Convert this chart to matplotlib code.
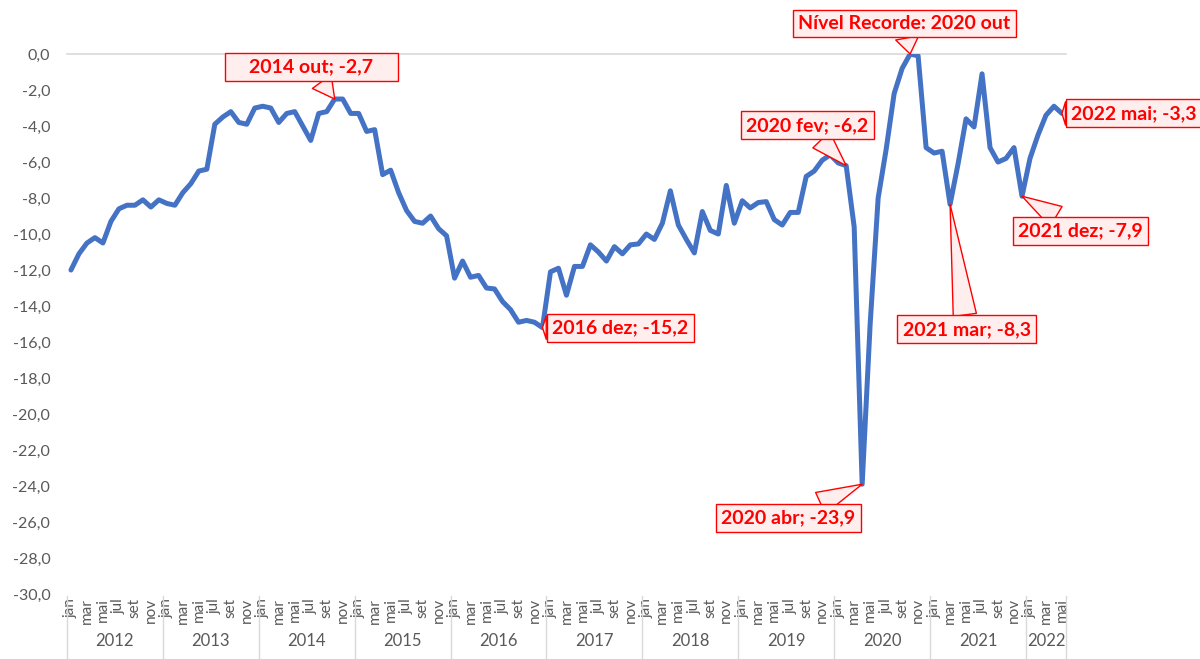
# grafico da serie mensal 2012-2022 com destaques
import matplotlib.pyplot as plt
import matplotlib.transforms as mtransforms
from matplotlib.ticker import FuncFormatter

plt.rcParams['font.family'] = ['Lato', 'DejaVu Sans']

meses = ["jan", "fev", "mar", "abr", "mai", "jun", "jul", "ago", "set", "out", "nov", "dez"]
anos = [2012, 2013, 2014, 2015, 2016, 2017, 2018, 2019, 2020, 2021, 2022]

# valores (jan..dez de cada ano)
v2012 = [-12.0, -11.1, -10.5, -10.2, -10.5, -9.3, -8.6, -8.4, -8.4, -8.1, -8.5, -8.1]
v2013 = [-8.3, -8.4, -7.7, -7.2, -6.5, -6.4, -3.9, -3.5, -3.2, -3.8, -3.9, -3.0]
v2014 = [-2.9, -3.0, -3.8, -3.3, -3.2, -4.0, -4.8, -3.3, -3.2, -2.5, -2.5, -3.3]
v2015 = [-3.3, -4.3, -4.2, -6.7, -6.45, -7.7, -8.7, -9.3, -9.4, -9.0, -9.7, -10.1]
v2016 = [-12.45, -11.5, -12.4, -12.3, -13.0, -13.05, -13.75, -14.2, -14.9, -14.8, -14.9, -15.2]
v2017 = [-12.1, -11.9, -13.4, -11.8, -11.8, -10.6, -11.0, -11.5, -10.7, -11.1, -10.6, -10.55]
v2018 = [-10.0, -10.3, -9.4, -7.6, -9.5, -10.3, -11.05, -8.75, -9.8, -10.0, -7.3, -9.4]
v2019 = [-8.15, -8.55, -8.25, -8.2, -9.2, -9.5, -8.8, -8.8, -6.8, -6.5, -5.9, -5.6]
v2020 = [-6.05, -6.2, -9.6, -23.9, -15.0, -8.0, -5.3, -2.2, -0.8, 0.0, -0.1, -5.2]
v2021 = [-5.5, -5.4, -8.35, -6.1, -3.6, -4.05, -1.1, -5.2, -6.0, -5.8, -5.2, -7.9]
v2022 = [-5.8, -4.5, -3.4, -2.9, -3.3]

valores = v2012 + v2013 + v2014 + v2015 + v2016 + v2017 + v2018 + v2019 + v2020 + v2021 + v2022
rotulos = [m for a in anos for m in meses][:len(valores)]

# destaques: indice do mes, texto, deslocamento da caixa (pontos)
destaques = [
    (33, "    2014 out; -2,7    ", -17, 23),
    (59, "2016 dez; -15,2", 56, 0),
    (97, "2020 fev; -6,2", -28, 29),
    (105, "Nível Recorde: 2020 out", -4, 22),
    (124, "2022 mai; -3,3", 52, 0),
    (119, "2021 dez; -7,9", 42, -25),
    (110, "2021 mar; -8,3", 12, -90),
    (99, "2020 abr; -23,9", -53, -24),
]

cinza_txt = "#595959"
cinza_lin = "#D9D9D9"

fig = plt.figure(figsize=(12, 6.59), dpi=100)
ax = fig.add_axes([0.0558, 0.0986, 0.8325, 0.8194])

x = list(range(len(valores)))
ax.plot(x, valores, color="#4472C4", lw=3.6, solid_joinstyle="round",
        solid_capstyle="round", zorder=3)

ax.set_xlim(-0.5, len(valores) - 0.5)
ax.set_ylim(-30, 0)
ax.set_yticks(range(-30, 1, 2))
ax.yaxis.set_major_formatter(FuncFormatter(lambda v, p: f"{v:.1f}".replace(".", ",")))
ax.tick_params(axis="y", length=0, pad=12, labelsize=11.5, labelcolor=cinza_txt)

# rotulos dos meses (um sim, um nao)
ax.set_xticks(x[::2])
ax.set_xticklabels(rotulos[::2], rotation=90, fontsize=11, color=cinza_txt)
ax.tick_params(axis="x", length=0, pad=3)

for s in ["left", "right", "bottom"]:
    ax.spines[s].set_visible(False)
ax.spines["top"].set_color(cinza_lin)
ax.spines["top"].set_linewidth(1.2)

# anos e separadores
trans = mtransforms.blended_transform_factory(ax.transData, ax.transAxes)
limites = [-0.5 + 12 * k for k in range(len(anos))] + [len(valores) - 0.5]
for b in limites:
    ax.plot([b, b], [-0.004, -0.125], transform=trans, color=cinza_lin,
            lw=1, clip_on=False)
for k, a in enumerate(anos):
    centro = (limites[k] + limites[k + 1]) / 2
    ax.text(centro, -0.087, str(a), transform=trans, ha="center", va="center",
            fontsize=12, color=cinza_txt)

# caixas de destaque
for i, txt, dx, dy in destaques:
    ax.annotate(txt, xy=(i, valores[i]), xytext=(dx, dy), textcoords="offset points",
                ha="center", va="center", fontsize=14, fontweight="bold", color="#FF0000",
                bbox=dict(boxstyle="square,pad=0.28", fc="#FFEEEE", ec="#FF0000", lw=1),
                arrowprops=dict(arrowstyle="wedge,tail_width=1.2", fc="#FFEEEE", ec="#FF0000",
                                lw=1, shrinkA=0, shrinkB=0),
                zorder=5, annotation_clip=False)

plt.savefig("out.png", dpi=100)
